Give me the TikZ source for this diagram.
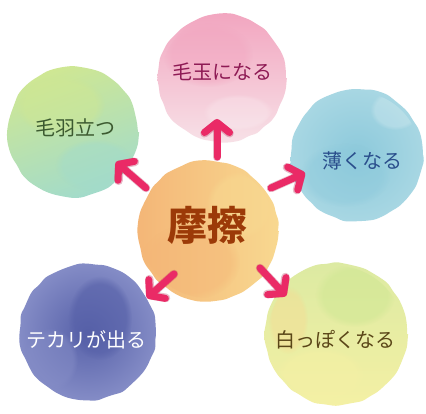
\documentclass[tikz,border=0pt]{standalone}
\usepackage{fontspec}
\setmainfont{Noto Sans CJK JP}
\usetikzlibrary{arrows.meta,backgrounds,decorations.pathmorphing,fadings}
\definecolor{pinkA}{HTML}{F2A6C0}
\definecolor{pinkB}{HTML}{F7E1E7}
\definecolor{greenA}{HTML}{CFE793}
\definecolor{greenB}{HTML}{A2DBCB}
\definecolor{blueA}{HTML}{8CC9DB}
\definecolor{blueB}{HTML}{A8D7E3}
\definecolor{purpA}{HTML}{5660A8}
\definecolor{purpB}{HTML}{848CC6}
\definecolor{yelA}{HTML}{DCEAA2}
\definecolor{yelB}{HTML}{F4F0A4}
\definecolor{orA}{HTML}{F4B677}
\definecolor{orB}{HTML}{F8D890}
\definecolor{arrowpink}{HTML}{EA2A66}
\definecolor{arrowedge}{HTML}{B0224F}
\definecolor{tPink}{HTML}{8E1A54}
\definecolor{tGreen}{HTML}{3C5A30}
\definecolor{tBlue}{HTML}{2A4E8C}
\definecolor{tBrown}{HTML}{9C3A08}
\definecolor{tOlive}{HTML}{5A4618}
\tikzset{
  wc/.style={decorate,decoration={random steps,segment length=9pt,amplitude=1pt},rounded corners=3pt},
  soft/.style={path fading=circle with fuzzy edge 20 percent},
  lab/.style={font=\fontsize{20}{24}\selectfont, inner sep=0pt},
  arr/.style={draw=arrowpink, line width=7pt, line cap=round, line join=round,
    -{Straight Barb[length=10pt,width=25pt,round]}},
  arrshadow/.style={draw=arrowedge, opacity=0.3, line width=8.5pt, line cap=round, line join=round,
    -{Straight Barb[length=10pt,width=25pt,round]}}
}
\begin{document}
\begin{tikzpicture}[x=1pt,y=-1pt]
\useasboundingbox (0,0) rectangle (426,414);
\fill[white] (0,0) rectangle (426,414);
\pgfmathsetseed{7}
% ---- watercolor blobs ----
% pink
\shade[wc, top color=pinkA, bottom color=pinkB] (222,78) circle [radius=64pt];
\begin{scope}
\clip (222,78) circle [radius=61pt];
\fill[soft, pinkA, opacity=0.45] (208,55) ellipse [x radius=45pt, y radius=32pt];
\fill[soft, white, opacity=0.2] (238,112) ellipse [x radius=35pt, y radius=18pt];
\end{scope}
% green
\shade[wc, top color=greenA, bottom color=greenB, shading angle=20] (73,132) circle [radius=65pt];
\begin{scope}
\clip (73,132) circle [radius=62pt];
\fill[soft, greenA, opacity=0.5] (60,105) ellipse [x radius=45pt, y radius=30pt];
\fill[soft, greenB, opacity=0.45] (95,165) ellipse [x radius=40pt, y radius=26pt];
\end{scope}
% blue
\shade[wc, inner color=blueA, outer color=blueB] (357,155) circle [radius=66pt];
\begin{scope}
\clip (357,155) circle [radius=63pt];
\fill[soft, blueA, opacity=0.4] (345,175) ellipse [x radius=45pt, y radius=32pt];
\fill[soft, white, opacity=0.2] (395,110) ellipse [x radius=25pt, y radius=20pt];
\end{scope}
% purple
\shade[wc, inner color=purpA, outer color=purpB] (88,332) circle [radius=68pt];
\begin{scope}
\clip (88,332) circle [radius=65pt];
\fill[soft, purpA, opacity=0.6] (100,318) ellipse [x radius=32pt, y radius=42pt];
\fill[soft, purpB, opacity=0.5] (50,360) ellipse [x radius=28pt, y radius=32pt];
\end{scope}
% yellow
\shade[wc, top color=yelA, bottom color=yelB] (336,334) circle [radius=71pt];
\begin{scope}
\clip (336,334) circle [radius=68pt];
\fill[soft, greenA, opacity=0.55] (355,295) ellipse [x radius=40pt, y radius=32pt];
\fill[soft, yelB, opacity=0.6] (320,375) ellipse [x radius=45pt, y radius=28pt];
\fill[soft, orB, opacity=0.4] (288,320) ellipse [x radius=20pt, y radius=34pt];
\end{scope}
% orange (centre)
\shade[wc, left color=orA, right color=orB] (208,231) circle [radius=70pt];
\begin{scope}
\clip (208,231) circle [radius=67pt];
\fill[soft, orA, opacity=0.45] (190,262) ellipse [x radius=50pt, y radius=38pt];
\fill[soft, orB, opacity=0.55] (240,205) ellipse [x radius=34pt, y radius=34pt];
\end{scope}
% ---- labels ----
\node[lab, text=tPink] (pink) at (222,72) {毛玉になる};
\node[lab, text=tGreen] (green) at (75,128) {毛羽立つ};
\node[lab, text=tBlue] (blue) at (362,161) {薄くなる};
\node[lab, text=white] (purple) at (87,340) {テカリが出る};
\node[lab, text=tOlive] (yellow) at (335,340) {白っぽくなる};
\node[inner sep=0pt, text=tBrown, font=\fontsize{40}{44}\selectfont\bfseries] (center) at (207,225) {摩擦};
% ---- arrows ----
\coordinate (s1) at (217,157); \coordinate (e1) at (217,119);
\coordinate (s2) at (146,188); \coordinate (e2) at (116,162);
\coordinate (s3) at (271,188); \coordinate (e3) at (305,173);
\coordinate (s4) at (174,274); \coordinate (e4) at (147,298);
\coordinate (s5) at (260,268); \coordinate (e5) at (286,296);
\foreach \i in {1,...,5}{
  \draw[arrshadow] (s\i) -- (e\i);
  \draw[arr] (s\i) -- (e\i);
}
\end{tikzpicture}
\end{document}
